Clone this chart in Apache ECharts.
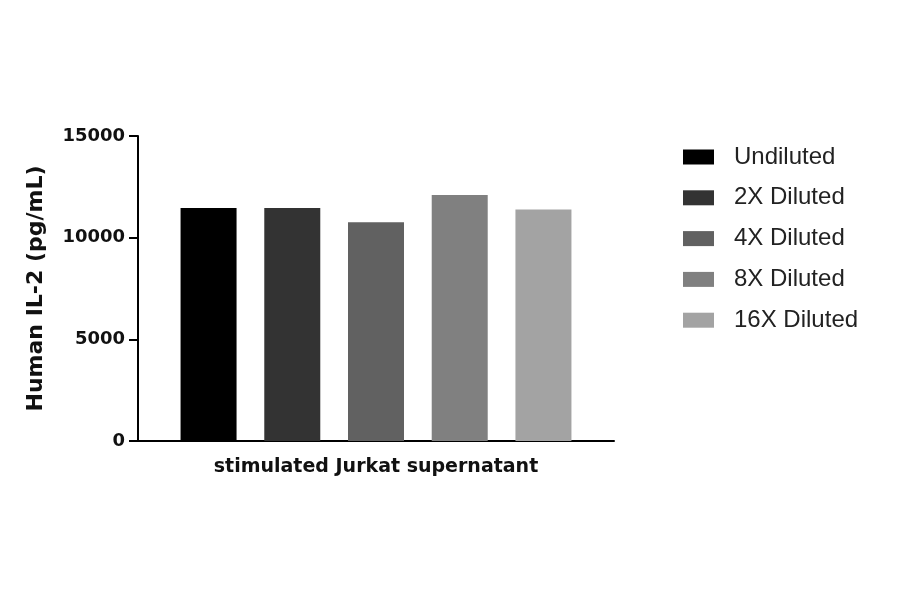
<!DOCTYPE html>
<html>
<head>
<meta charset="utf-8">
<script src="https://cdn.jsdelivr.net/npm/echarts@6/dist/echarts.min.js"></script>
<style>html,body{margin:0;padding:0;background:#fff;}#c{width:900px;height:594px;}</style>
</head>
<body>
<div id="c"></div>
<script>
const categories = ['stimulated Jurkat supernatant'];
const seriesNames = ['Undiluted', '2X Diluted', '4X Diluted', '8X Diluted', '16X Diluted'];
const seriesValues = [11460, 11460, 10760, 12100, 11390];
const seriesColors = ['#000000', '#333333', '#616161', '#808080', '#a3a3a3'];
const yTicks = [0, 5000, 10000, 15000];

const chart = echarts.init(document.getElementById('c'), null, {renderer: 'canvas'});
const series = seriesNames.map((name, i) => ({
  name: name,
  type: 'bar',
  data: [seriesValues[i]],
  barWidth: 56,
  barGap: '49.5%',
  itemStyle: {color: seriesColors[i]},
  animation: false
}));
chart.setOption({
  animation: false,
  backgroundColor: '#ffffff',
  grid: {left: 138, right: 286, top: 136, bottom: 153, containLabel: false},
  legend: {
    orient: 'vertical',
    left: 678,
    top: 140,
    itemWidth: 31,
    itemHeight: 15,
    itemGap: 16.8,
    icon: 'rect',
    textStyle: {fontFamily: 'Liberation Sans', fontSize: 24, color: '#222', padding: [0, 0, 0, 15], lineHeight: 24},
    data: seriesNames
  },
  xAxis: {
    type: 'category',
    data: categories,
    axisLine: {lineStyle: {color: '#000', width: 2}},
    axisTick: {alignWithLabel: true, length: 9, lineStyle: {color: '#000', width: 2}},
    axisLabel: {fontFamily: 'DejaVu Sans', fontWeight: 'bold', fontSize: 19, color: '#111', margin: 17}
  },
  yAxis: {
    type: 'value',
    min: yTicks[0],
    max: yTicks[yTicks.length - 1],
    interval: yTicks[1] - yTicks[0],
    name: 'Human IL-2 (pg/mL)',
    nameLocation: 'middle',
    nameGap: 91,
    nameTextStyle: {fontFamily: 'DejaVu Sans', fontWeight: 'bold', fontSize: 22, color: '#111'},
    axisLine: {show: true, lineStyle: {color: '#000', width: 2}},
    axisTick: {show: true, length: 9, lineStyle: {color: '#000', width: 2}},
    splitLine: {show: false},
    axisLabel: {fontFamily: 'DejaVu Sans', fontWeight: 'bold', fontSize: 18, color: '#111', margin: 13,
      formatter: v => String(v)}
  },
  series: series
});
</script>
</body>
</html>
